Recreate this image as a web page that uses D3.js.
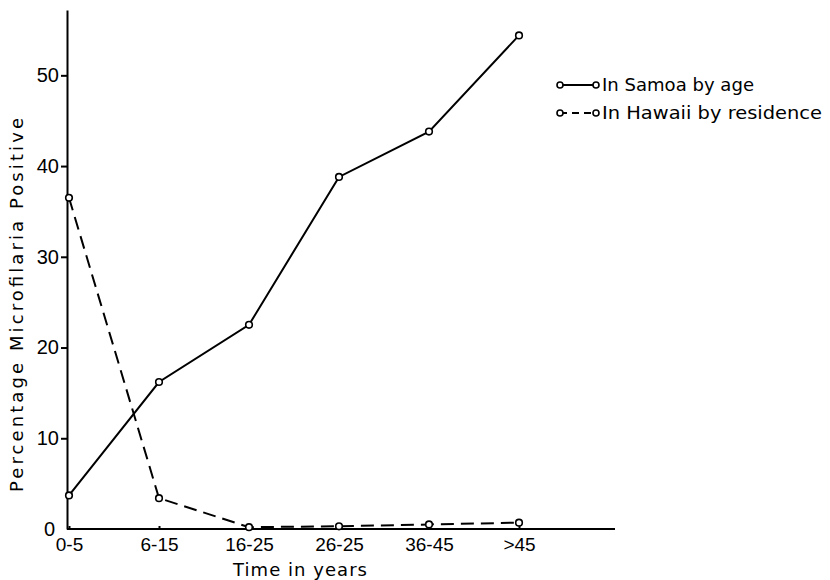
<!DOCTYPE html>
<meta charset="utf-8">
<html>
  <head>
    <style>
      body { margin: 0; background: #fff; }
      svg { display: block; font-family: "DejaVu Sans", sans-serif; }
      .line { fill: none; stroke: #000; stroke-width: 2px; }
      .dash { stroke-dasharray: 13 7; }
      .dot { fill: #fff; stroke: #000; stroke-width: 1.6px; }
      .axis path, .axis line { stroke: #000; stroke-width: 2px; }
      .axis text { fill: #000; }
    </style>
  </head>
  <body>
    <script src="https://d3js.org/d3.v7.min.js"></script>
    <script>

      var ageGroups = ["0-5", "6-15", "16-25", "26-25", "36-45", ">45"];
      var samoa  = [3.7, 16.2, 22.5, 38.8, 43.8, 54.4];
      var hawaii = [36.5, 3.4, 0.2, 0.3, 0.5, 0.7];
      var yTicks = [0, 10, 20, 30, 40, 50];
      var seriesNames = ["In Samoa by age", "In Hawaii by residence"];

      var width = 830, height = 580;

      var svg = d3.select("body").append("svg")
          .attr("width", width)
          .attr("height", height);

      var x = d3.scalePoint().domain(ageGroups).range([69, 519]);
      var y = d3.scaleLinear().domain([0, 57.2]).range([529, 10]);

      // x axis, running past the last group
      var xAxis = svg.append("g")
          .attr("class", "axis")
          .attr("transform", "translate(0,529)")
          .call(d3.axisBottom(x).tickSizeInner(-3).tickSizeOuter(0).tickPadding(9));
      xAxis.select(".domain").attr("d", "M67,0H615");
      xAxis.selectAll("text").style("font-size", "19px");

      var yAxis = svg.append("g")
          .attr("class", "axis")
          .attr("transform", "translate(67,0)")
          .call(d3.axisLeft(y).tickValues(yTicks).tickSize(6).tickSizeOuter(0).tickPadding(2));
      yAxis.selectAll("text").style("font-size", "20px");
      yAxis.selectAll(".tick").filter(function(d) { return d === 0; }).select("line").remove();
      yAxis.selectAll(".tick").filter(function(d) { return d === 0; }).select("text").attr("dx", -4);

      svg.append("text")
          .attr("transform", "translate(23,305) rotate(-90)")
          .attr("text-anchor", "middle")
          .attr("textLength", 374)
          .attr("lengthAdjust", "spacing")
          .style("font-size", "18px")
          .text("Percentage Microfilaria Positive");

      svg.append("text")
          .attr("x", 300)
          .attr("y", 576)
          .attr("text-anchor", "middle")
          .attr("textLength", 134)
          .attr("lengthAdjust", "spacing")
          .style("font-size", "18px")
          .text("Time in years");

      var line = d3.line()
          .x(function(d, i) { return x(ageGroups[i]); })
          .y(function(d) { return y(d); });

      svg.append("path").datum(samoa).attr("class", "line").attr("d", line);
      svg.append("path").datum(hawaii).attr("class", "line dash").attr("d", line);

      [samoa, hawaii].forEach(function(vals) {
        svg.selectAll(null)
          .data(vals)
          .enter().append("circle")
            .attr("class", "dot")
            .attr("r", 3.3)
            .attr("cx", function(d, i) { return x(ageGroups[i]); })
            .attr("cy", function(d) { return y(d); });
      });

      // legend
      var legend = svg.append("g").attr("transform", "translate(560,85)");
      seriesNames.forEach(function(name, i) {
        var g = legend.append("g").attr("transform", "translate(0," + (i * 28) + ")");
        g.append("line")
            .attr("class", "line")
            .attr("x1", 0).attr("x2", 36)
            .style("stroke-dasharray", i === 1 ? "7 5" : null);
        g.append("circle").attr("class", "dot").attr("r", 3).attr("cx", 0);
        g.append("circle").attr("class", "dot").attr("r", 3).attr("cx", 36);
        g.append("text")
            .attr("x", 42)
            .attr("dy", "0.35em")
            .attr("textLength", i === 1 ? 220 : 152)
            .attr("lengthAdjust", "spacingAndGlyphs")
            .style("font-size", "18px")
            .text(name);
      });

    </script>
  </body>
</html>
